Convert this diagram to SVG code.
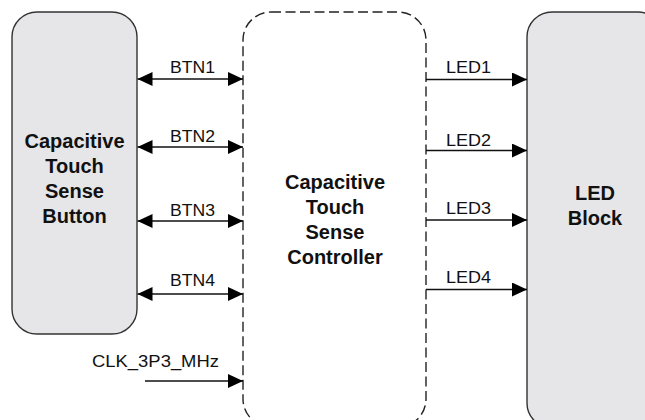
<svg xmlns="http://www.w3.org/2000/svg" width="645" height="420" viewBox="0 0 645 420">
<defs>
<style>
.blk{fill:#e6e6e8;stroke:#333;stroke-width:1.4}
.ctl{fill:#fff;stroke:#222;stroke-width:1.4;stroke-dasharray:10 4.5}
.t{font-family:"Liberation Sans",Arial,sans-serif;font-weight:bold;font-size:20px;fill:#111;text-anchor:middle}
.l{font-family:"Liberation Sans",Arial,sans-serif;font-size:17px;fill:#111;text-anchor:middle}
.w{stroke:#111;stroke-width:1.3;fill:none}
</style>
<marker id="ah" viewBox="0 0 15 14" refX="15" refY="7" markerWidth="15" markerHeight="14" markerUnits="userSpaceOnUse" orient="auto-start-reverse">
<path d="M0,0 L15,7 L0,14 Z" fill="#000"/>
</marker>
</defs>
<rect width="645" height="420" fill="#fff"/>
<g id="button">
<rect class="blk" x="12" y="12" width="125" height="322" rx="25" ry="25"/>
<text class="t" x="74.5" y="148">Capacitive</text>
<text class="t" x="74.5" y="173">Touch</text>
<text class="t" x="74.5" y="198">Sense</text>
<text class="t" x="74.5" y="223">Button</text>
</g>
<g id="controller">
<rect class="ctl" x="243" y="12" width="183" height="415" rx="28" ry="28"/>
<text class="t" x="335" y="189">Capacitive</text>
<text class="t" x="335" y="214">Touch</text>
<text class="t" x="335" y="239">Sense</text>
<text class="t" x="335" y="264">Controller</text>
</g>
<g id="led">
<rect class="blk" x="527" y="12" width="136" height="416" rx="25" ry="25"/>
<text class="t" x="595" y="200">LED</text>
<text class="t" x="595" y="225">Block</text>
</g>
<g id="connectors">
<line class="w" x1="137.5" y1="79" x2="243" y2="79" marker-start="url(#ah)" marker-end="url(#ah)"/>
<line class="w" x1="137.5" y1="147" x2="243" y2="147" marker-start="url(#ah)" marker-end="url(#ah)"/>
<line class="w" x1="137.5" y1="221" x2="243" y2="221" marker-start="url(#ah)" marker-end="url(#ah)"/>
<line class="w" x1="137.5" y1="294" x2="243" y2="294" marker-start="url(#ah)" marker-end="url(#ah)"/>
<line class="w" x1="145" y1="381" x2="243" y2="381" marker-end="url(#ah)"/>
<line class="w" x1="426" y1="79.5" x2="527" y2="79.5" marker-end="url(#ah)"/>
<line class="w" x1="426" y1="150.5" x2="527" y2="150.5" marker-end="url(#ah)"/>
<line class="w" x1="426" y1="220" x2="527" y2="220" marker-end="url(#ah)"/>
<line class="w" x1="426" y1="289.5" x2="527" y2="289.5" marker-end="url(#ah)"/>
<text class="l" x="192.5" y="73" textLength="45" lengthAdjust="spacingAndGlyphs">BTN1</text>
<text class="l" x="192.5" y="141.5" textLength="45" lengthAdjust="spacingAndGlyphs">BTN2</text>
<text class="l" x="192.5" y="216" textLength="45" lengthAdjust="spacingAndGlyphs">BTN3</text>
<text class="l" x="192.5" y="286" textLength="45" lengthAdjust="spacingAndGlyphs">BTN4</text>
<text class="l" x="155.5" y="366.5" textLength="127" lengthAdjust="spacingAndGlyphs">CLK_3P3_MHz</text>
<text class="l" x="468.5" y="73" textLength="45" lengthAdjust="spacingAndGlyphs">LED1</text>
<text class="l" x="468.5" y="145.5" textLength="45" lengthAdjust="spacingAndGlyphs">LED2</text>
<text class="l" x="468.5" y="214" textLength="45" lengthAdjust="spacingAndGlyphs">LED3</text>
<text class="l" x="468.5" y="283" textLength="45" lengthAdjust="spacingAndGlyphs">LED4</text>
</g>
</svg>
